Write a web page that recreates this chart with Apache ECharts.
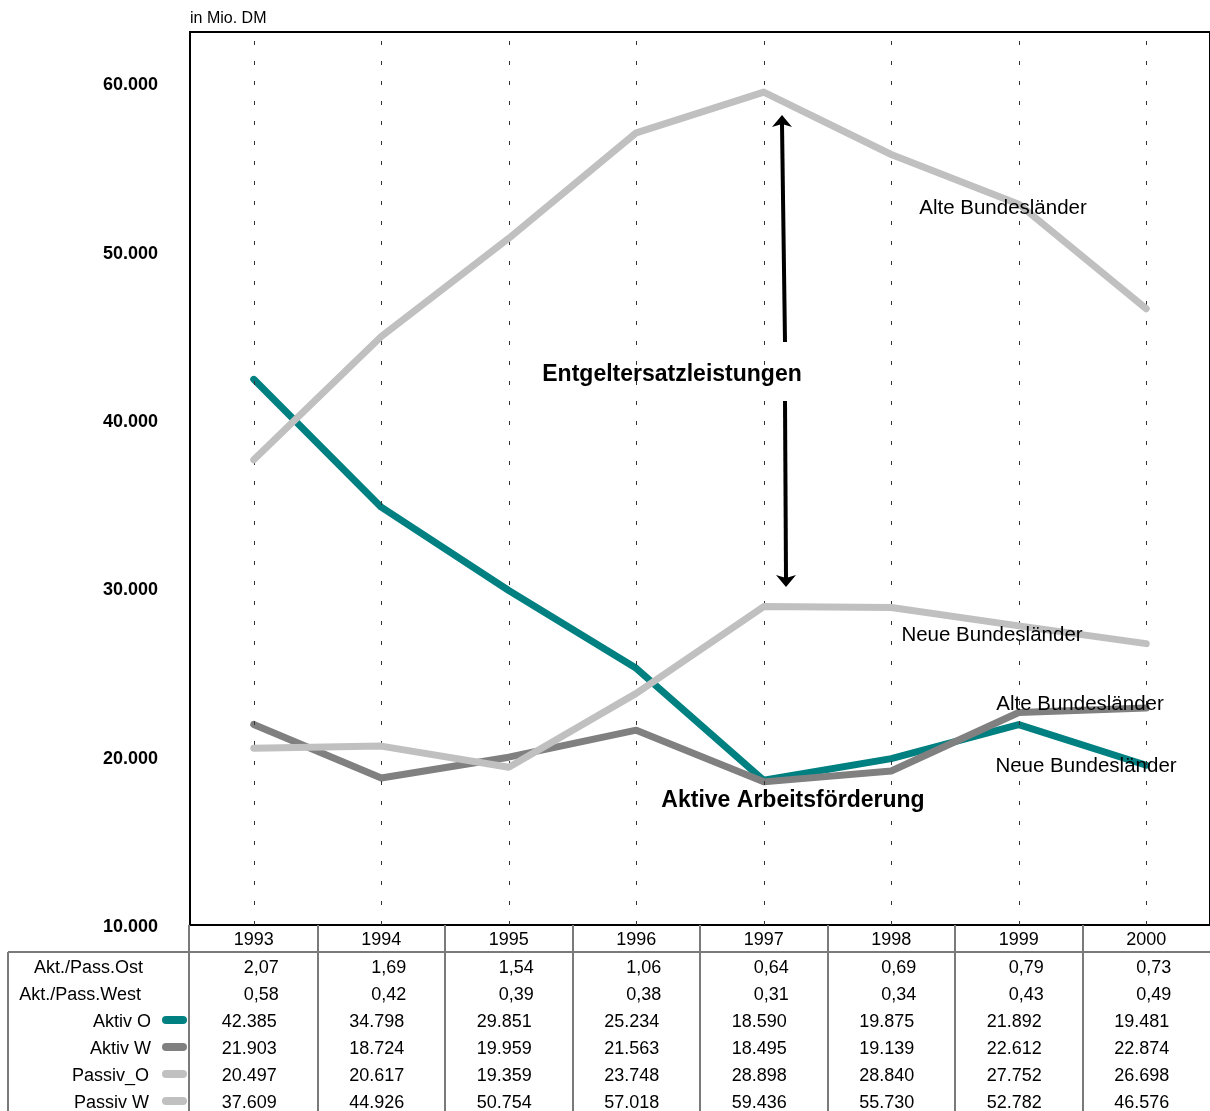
<!DOCTYPE html>
<html>
<head>
<meta charset="utf-8">
<script src="https://cdn.jsdelivr.net/npm/echarts@6/dist/echarts.min.js"></script>
<style>
html,body{margin:0;padding:0;background:#fff;}
#chart{width:1210px;height:1111px;}
</style>
</head>
<body>
<div id="chart"></div>
<script>
// ---- data ----
var years = ['1993','1994','1995','1996','1997','1998','1999','2000'];
var aktivO = [42385, 34798, 29851, 25234, 18590, 19875, 21892, 19481];
var aktivW = [21903, 18724, 19959, 21563, 18495, 19139, 22612, 22874];
var passivO = [20497, 20617, 19359, 23748, 28898, 28840, 27752, 26698];
var passivW = [37609, 44926, 50754, 57018, 59436, 55730, 52782, 46576];
var ratioOst = ['2,07','1,69','1,54','1,06','0,64','0,69','0,79','0,73'];
var ratioWest = ['0,58','0,42','0,39','0,38','0,31','0,34','0,43','0,49'];
var seriesNames = ['Aktiv O','Aktiv W','Passiv_O','Passiv W'];
var yTicks = [10000, 20000, 30000, 40000, 50000, 60000];

var colors = ['#008080', '#808080', '#c0c0c0', '#c0c0c0'];
var FONT = 'Liberation Sans, Arial, Helvetica, sans-serif';

function fmtThousands(v){
  return String(v).replace(/\B(?=(\d{3})+(?!\d))/g, '.');
}

var chart = echarts.init(document.getElementById('chart'));
var seriesData = [aktivO, aktivW, passivO, passivW];

var series = seriesData.map(function(d, i){
  return {
    name: seriesNames[i],
    type: 'line',
    data: d,
    symbol: 'none',
    lineStyle: {color: colors[i], width: 7, cap: 'round', join: 'round'},
    itemStyle: {color: colors[i]},
    z: 3 + i
  };
});
series.push({
  name: 'grid',
  type: 'line',
  data: [],
  silent: true,
  z: 2,
  markLine: {
    silent: true,
    symbol: ['none','none'],
    label: {show: false},
    animation: false,
    lineStyle: {type: [4, 16], color: '#333', width: 1},
    data: years.map(function(y){ return {xAxis: y}; })
  }
});

chart.setOption({
  animation: false,
  backgroundColor: '#fff',
  textStyle: {fontFamily: FONT},
  grid: {left: 190, top: 32, width: 1024, height: 893, show: true, borderColor: '#000', borderWidth: 2, backgroundColor: 'transparent'},
  xAxis: {
    type: 'category',
    data: years,
    boundaryGap: true,
    axisLine: {show: true, lineStyle: {color: '#000', width: 2}},
    axisTick: {show: false},
    splitLine: {show: false},
    axisLabel: {color: '#000', fontSize: 18, fontFamily: FONT, margin: 6}
  },
  yAxis: {
    type: 'value',
    min: 10000,
    max: 63000,
    interval: 10000,
    axisLine: {show: true, lineStyle: {color: '#000', width: 2}},
    axisTick: {show: false},
    splitLine: {show: false},
    axisLabel: {
      color: '#000', fontSize: 18, fontWeight: 'bold', fontFamily: FONT, margin: 32,
      formatter: function(v){ return (v % 10000 === 0) ? '{a|' + fmtThousands(v) + '}' : ''; },
      rich: {a: {color: '#000', fontSize: 18, fontWeight: 'bold', fontFamily: FONT, padding: [5, 0, 0, 0]}}
    }
  },
  series: series
});

// ---- table & annotations as graphic ----
var g = [];
var centers = years.map(function(y){ return chart.convertToPixel({xAxisIndex: 0}, y); });
var half = (centers[1] - centers[0]) / 2;
var gridLeft = 189, axisY = 925, headerLineY = 952, bottomY = 1111;
var tableLine = {stroke: '#7a7a7a', lineWidth: 2};

g.push({type: 'line', shape: {x1: 8, y1: headerLineY, x2: 1210, y2: headerLineY}, style: tableLine, z: 10});
g.push({type: 'line', shape: {x1: 8, y1: headerLineY, x2: 8, y2: bottomY}, style: tableLine, z: 10});
g.push({type: 'line', shape: {x1: gridLeft, y1: axisY, x2: gridLeft, y2: bottomY}, style: tableLine, z: 10});
for (var i = 0; i < centers.length - 1; i++) {
  var bx = Math.round(centers[i] + half);
  g.push({type: 'line', shape: {x1: bx, y1: axisY, x2: bx, y2: bottomY}, style: tableLine, z: 10});
}

var rowY = [968, 995, 1022, 1049, 1076, 1103];
var rows = [
  {label: 'Akt./Pass.Ost', values: ratioOst, labelRight: 143},
  {label: 'Akt./Pass.West', values: ratioWest, labelRight: 141},
  {label: seriesNames[0], values: aktivO.map(fmtThousands), labelRight: 151, swatch: colors[0]},
  {label: seriesNames[1], values: aktivW.map(fmtThousands), labelRight: 151, swatch: colors[1]},
  {label: seriesNames[2], values: passivO.map(fmtThousands), labelRight: 149, swatch: colors[2]},
  {label: seriesNames[3], values: passivW.map(fmtThousands), labelRight: 149, swatch: colors[3]}
];
rows.forEach(function(r, ri){
  var y = rowY[ri];
  g.push({type: 'text', x: r.labelRight, y: y, style: {text: r.label, fill: '#000', font: '18px ' + FONT, textAlign: 'right', textVerticalAlign: 'middle'}, z: 10});
  if (r.swatch) {
    g.push({type: 'line', shape: {x1: 166, y1: y - 2, x2: 183, y2: y - 2}, style: {stroke: r.swatch, lineWidth: 8, lineCap: 'round'}, z: 10});
  }
  var off = ri < 2 ? 25 : 23;
  r.values.forEach(function(v, ci){
    g.push({type: 'text', x: centers[ci] + off, y: y, style: {text: v, fill: '#000', font: '18px ' + FONT, textAlign: 'right', textVerticalAlign: 'middle'}, z: 10});
  });
});

// unit label
g.push({type: 'text', x: 190, y: 19, style: {text: 'in Mio. DM', fill: '#000', font: '16px ' + FONT, textAlign: 'left', textVerticalAlign: 'middle'}, z: 10});

// annotations
function label(txt, x, y, size, bold){
  g.push({type: 'text', x: x, y: y, style: {text: txt, fill: '#000', font: (bold ? 'bold ' : '') + size + 'px ' + FONT, textAlign: 'center', textVerticalAlign: 'middle'}, z: 20});
}
label('Entgeltersatzleistungen', 672, 375, 23, true);
label('Aktive Arbeitsförderung', 793, 801, 23, true);
label('Alte Bundesländer', 1003, 208, 20.5, false);
label('Neue Bundesländer', 992, 635, 20.5, false);
label('Alte Bundesländer', 1080, 704, 20.5, false);
label('Neue Bundesländer', 1086, 766, 20.5, false);

// arrows
g.push({type: 'line', shape: {x1: 785, y1: 342, x2: 782, y2: 124}, style: {stroke: '#000', lineWidth: 4}, z: 20});
g.push({type: 'polygon', shape: {points: [[782, 115], [792, 127], [782, 124], [772, 127]]}, style: {fill: '#000'}, z: 20});
g.push({type: 'line', shape: {x1: 785, y1: 401, x2: 786, y2: 578}, style: {stroke: '#000', lineWidth: 4}, z: 20});
g.push({type: 'polygon', shape: {points: [[786, 587], [796, 575], [786, 578], [776, 575]]}, style: {fill: '#000'}, z: 20});

chart.setOption({graphic: {elements: g}});
</script>
</body>
</html>
